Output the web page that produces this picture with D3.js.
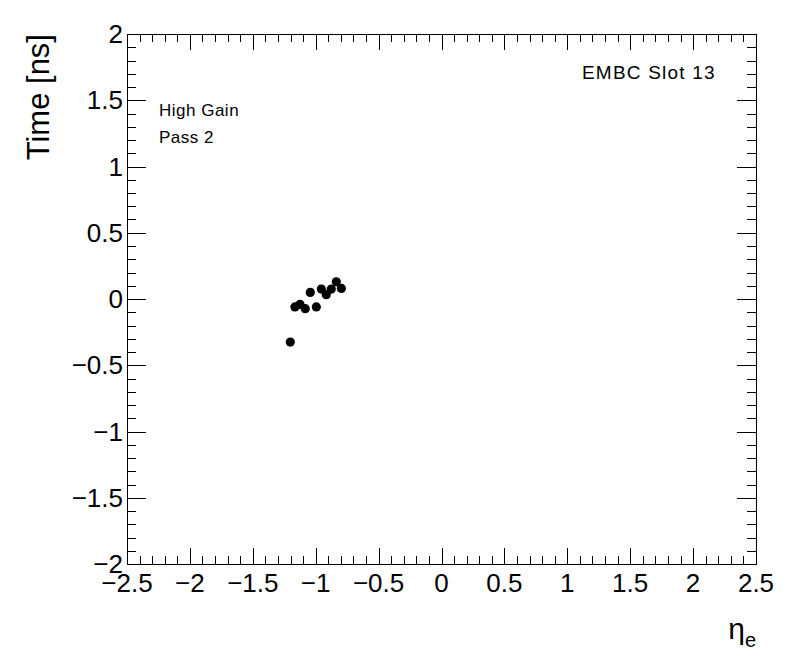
<!DOCTYPE html>
<html><head><meta charset="utf-8">
<script src="https://cdn.jsdelivr.net/npm/d3@7"></script>
<style>body{margin:0;background:#fff}svg{display:block}text{font-family:"Liberation Sans",Arial,sans-serif;fill:#000}</style>
</head><body>
<script>
const etaValues = [-1.202, -1.165, -1.125, -1.083, -1.043, -0.995, -0.955, -0.916, -0.876, -0.836, -0.796];
const timeValues = [-0.325, -0.06, -0.04, -0.073, 0.05, -0.06, 0.075, 0.033, 0.075, 0.13, 0.08];
const xTicks = [-2.5, -2, -1.5, -1, -0.5, 0, 0.5, 1, 1.5, 2, 2.5];
const yTicks = [-2, -1.5, -1, -0.5, 0, 0.5, 1, 1.5, 2];
const labels = ["High Gain", "Pass 2"];
const title = "EMBC Slot 13";

const W = 796, H = 672;
const L = 127, R = 756, T = 34, B = 564;
const svg = d3.select("body").append("svg").attr("width", W).attr("height", H);
const x = d3.scaleLinear().domain([-2.5, 2.5]).range([L, R]);
const y = d3.scaleLinear().domain([-2, 2]).range([B, T]);
const fmt = v => (v < 0 ? "\u2212" : "") + Math.abs(v);

const xMinor = d3.range(-25, 26).map(i => i / 10);
const yMinor = d3.range(-20, 21).map(i => i / 10);
const isMajor = v => Math.abs(v * 2 - Math.round(v * 2)) < 1e-6;

const g = svg.append("g").attr("stroke", "#000").attr("stroke-width", 1);
g.append("rect").attr("x", L + 0.5).attr("y", T + 0.5).attr("width", R - L).attr("height", B - T).attr("fill", "none");
xMinor.forEach(v => {
  const len = isMajor(v) ? 16 : 8;
  const px = Math.round(x(v)) + 0.5;
  g.append("line").attr("x1", px).attr("x2", px).attr("y1", B).attr("y2", B - len);
  g.append("line").attr("x1", px).attr("x2", px).attr("y1", T).attr("y2", T + len);
});
yMinor.forEach(v => {
  const len = isMajor(v) ? 19 : 9;
  const py = Math.round(y(v)) + 0.5;
  g.append("line").attr("y1", py).attr("y2", py).attr("x1", L).attr("x2", L + len);
  g.append("line").attr("y1", py).attr("y2", py).attr("x1", R).attr("x2", R - len);
});

svg.append("g").selectAll("text").data(xTicks).join("text")
  .attr("x", d => x(d)).attr("y", 592).attr("text-anchor", "middle")
  .attr("font-size", 26).text(fmt);
svg.append("g").selectAll("text").data(yTicks).join("text")
  .attr("x", 123).attr("y", d => y(d) + 9).attr("text-anchor", "end")
  .attr("font-size", 26).text(fmt);

svg.append("text").attr("transform", `translate(49,${T}) rotate(-90)`)
  .attr("text-anchor", "end").attr("font-size", 31).text("Time [ns]");
const xt = svg.append("text").attr("x", 756).attr("y", 639).attr("text-anchor", "end").attr("font-size", 30);
xt.append("tspan").text("\u03b7");
xt.append("tspan").attr("font-size", 20).attr("dy", 8).text("e");

svg.append("text").attr("x", 582).attr("y", 79).attr("font-size", 19).attr("letter-spacing", 1.2).text(title);
svg.selectAll(".lab").data(labels).join("text").attr("class", "lab")
  .attr("x", 159).attr("y", (d, i) => 116 + i * 27).attr("font-size", 17).attr("letter-spacing", 0.5).text(d => d);

svg.append("g").selectAll("circle").data(etaValues).join("circle")
  .attr("cx", d => x(d)).attr("cy", (d, i) => y(timeValues[i])).attr("r", 4.6).attr("fill", "#000");
</script>
</body></html>
